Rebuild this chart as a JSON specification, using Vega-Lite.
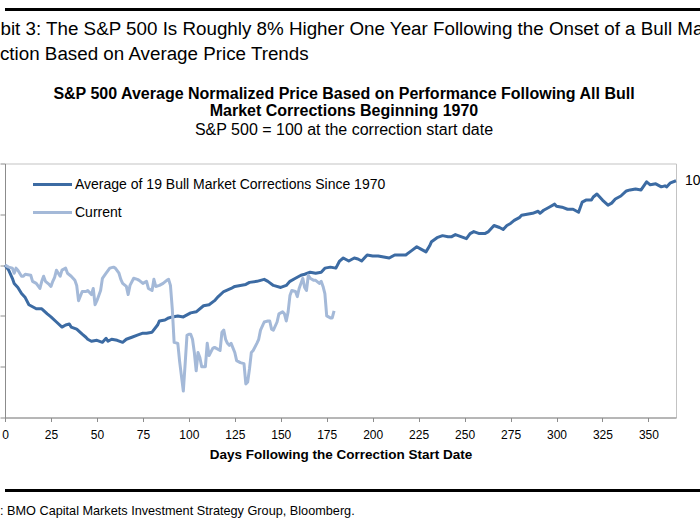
{
  "$schema": "https://vega.github.io/schema/vega-lite/v6.json",
  "background": "white",
  "padding": {"left": -47, "top": 7.5, "right": -507.5, "bottom": 0},
  "spacing": 73,
  "bounds": "flush",
  "resolve": {"legend": {"color": "independent"}},
  "config": {
    "font": "Liberation Sans",
    "view": {"stroke": null}
  },
  "datasets": {
    "frame": [{"k": 1}],
    "series": [
      {"series": "Average of 19 Bull Market Corrections Since 1970", "day": 0, "value": 100},
      {"series": "Average of 19 Bull Market Corrections Since 1970", "day": 2, "value": 99.5},
      {"series": "Average of 19 Bull Market Corrections Since 1970", "day": 4, "value": 98.7},
      {"series": "Average of 19 Bull Market Corrections Since 1970", "day": 5, "value": 98.2},
      {"series": "Average of 19 Bull Market Corrections Since 1970", "day": 7, "value": 97.8},
      {"series": "Average of 19 Bull Market Corrections Since 1970", "day": 9, "value": 97.2},
      {"series": "Average of 19 Bull Market Corrections Since 1970", "day": 11, "value": 96.8},
      {"series": "Average of 19 Bull Market Corrections Since 1970", "day": 13, "value": 96.1},
      {"series": "Average of 19 Bull Market Corrections Since 1970", "day": 15, "value": 95.9},
      {"series": "Average of 19 Bull Market Corrections Since 1970", "day": 17, "value": 95.7},
      {"series": "Average of 19 Bull Market Corrections Since 1970", "day": 20, "value": 95.7},
      {"series": "Average of 19 Bull Market Corrections Since 1970", "day": 23, "value": 95.2},
      {"series": "Average of 19 Bull Market Corrections Since 1970", "day": 25, "value": 94.9},
      {"series": "Average of 19 Bull Market Corrections Since 1970", "day": 28, "value": 94.4},
      {"series": "Average of 19 Bull Market Corrections Since 1970", "day": 31, "value": 93.9},
      {"series": "Average of 19 Bull Market Corrections Since 1970", "day": 33, "value": 94.1},
      {"series": "Average of 19 Bull Market Corrections Since 1970", "day": 35, "value": 94.2},
      {"series": "Average of 19 Bull Market Corrections Since 1970", "day": 36, "value": 93.9},
      {"series": "Average of 19 Bull Market Corrections Since 1970", "day": 39, "value": 93.7},
      {"series": "Average of 19 Bull Market Corrections Since 1970", "day": 42, "value": 93.2},
      {"series": "Average of 19 Bull Market Corrections Since 1970", "day": 44, "value": 92.9},
      {"series": "Average of 19 Bull Market Corrections Since 1970", "day": 45, "value": 92.7},
      {"series": "Average of 19 Bull Market Corrections Since 1970", "day": 47, "value": 92.5},
      {"series": "Average of 19 Bull Market Corrections Since 1970", "day": 50, "value": 92.6},
      {"series": "Average of 19 Bull Market Corrections Since 1970", "day": 53, "value": 92.4},
      {"series": "Average of 19 Bull Market Corrections Since 1970", "day": 55, "value": 92.8},
      {"series": "Average of 19 Bull Market Corrections Since 1970", "day": 56, "value": 92.5},
      {"series": "Average of 19 Bull Market Corrections Since 1970", "day": 58, "value": 92.7},
      {"series": "Average of 19 Bull Market Corrections Since 1970", "day": 61, "value": 92.6},
      {"series": "Average of 19 Bull Market Corrections Since 1970", "day": 64, "value": 92.4},
      {"series": "Average of 19 Bull Market Corrections Since 1970", "day": 66, "value": 92.7},
      {"series": "Average of 19 Bull Market Corrections Since 1970", "day": 69, "value": 92.9},
      {"series": "Average of 19 Bull Market Corrections Since 1970", "day": 72, "value": 93.1},
      {"series": "Average of 19 Bull Market Corrections Since 1970", "day": 75, "value": 93.3},
      {"series": "Average of 19 Bull Market Corrections Since 1970", "day": 77, "value": 93.3},
      {"series": "Average of 19 Bull Market Corrections Since 1970", "day": 80, "value": 93.4},
      {"series": "Average of 19 Bull Market Corrections Since 1970", "day": 83, "value": 94.1},
      {"series": "Average of 19 Bull Market Corrections Since 1970", "day": 84, "value": 94.5},
      {"series": "Average of 19 Bull Market Corrections Since 1970", "day": 87, "value": 94.6},
      {"series": "Average of 19 Bull Market Corrections Since 1970", "day": 89, "value": 94.8},
      {"series": "Average of 19 Bull Market Corrections Since 1970", "day": 91, "value": 94.9},
      {"series": "Average of 19 Bull Market Corrections Since 1970", "day": 94, "value": 95.0},
      {"series": "Average of 19 Bull Market Corrections Since 1970", "day": 97, "value": 94.9},
      {"series": "Average of 19 Bull Market Corrections Since 1970", "day": 101, "value": 95.3},
      {"series": "Average of 19 Bull Market Corrections Since 1970", "day": 104, "value": 95.4},
      {"series": "Average of 19 Bull Market Corrections Since 1970", "day": 108, "value": 96.0},
      {"series": "Average of 19 Bull Market Corrections Since 1970", "day": 111, "value": 96.1},
      {"series": "Average of 19 Bull Market Corrections Since 1970", "day": 114, "value": 96.5},
      {"series": "Average of 19 Bull Market Corrections Since 1970", "day": 116, "value": 96.9},
      {"series": "Average of 19 Bull Market Corrections Since 1970", "day": 119, "value": 97.4},
      {"series": "Average of 19 Bull Market Corrections Since 1970", "day": 123, "value": 97.7},
      {"series": "Average of 19 Bull Market Corrections Since 1970", "day": 125, "value": 97.9},
      {"series": "Average of 19 Bull Market Corrections Since 1970", "day": 128, "value": 98.0},
      {"series": "Average of 19 Bull Market Corrections Since 1970", "day": 131, "value": 98.1},
      {"series": "Average of 19 Bull Market Corrections Since 1970", "day": 133, "value": 98.3},
      {"series": "Average of 19 Bull Market Corrections Since 1970", "day": 137, "value": 98.4},
      {"series": "Average of 19 Bull Market Corrections Since 1970", "day": 141, "value": 98.6},
      {"series": "Average of 19 Bull Market Corrections Since 1970", "day": 143, "value": 98.4},
      {"series": "Average of 19 Bull Market Corrections Since 1970", "day": 146, "value": 98.0},
      {"series": "Average of 19 Bull Market Corrections Since 1970", "day": 150, "value": 97.8},
      {"series": "Average of 19 Bull Market Corrections Since 1970", "day": 153, "value": 98.0},
      {"series": "Average of 19 Bull Market Corrections Since 1970", "day": 155, "value": 98.4},
      {"series": "Average of 19 Bull Market Corrections Since 1970", "day": 158, "value": 98.7},
      {"series": "Average of 19 Bull Market Corrections Since 1970", "day": 161, "value": 99.0},
      {"series": "Average of 19 Bull Market Corrections Since 1970", "day": 163, "value": 99.1},
      {"series": "Average of 19 Bull Market Corrections Since 1970", "day": 166, "value": 99.3},
      {"series": "Average of 19 Bull Market Corrections Since 1970", "day": 169, "value": 99.2},
      {"series": "Average of 19 Bull Market Corrections Since 1970", "day": 172, "value": 99.3},
      {"series": "Average of 19 Bull Market Corrections Since 1970", "day": 174, "value": 99.7},
      {"series": "Average of 19 Bull Market Corrections Since 1970", "day": 177, "value": 99.8},
      {"series": "Average of 19 Bull Market Corrections Since 1970", "day": 180, "value": 99.7},
      {"series": "Average of 19 Bull Market Corrections Since 1970", "day": 182, "value": 100.4},
      {"series": "Average of 19 Bull Market Corrections Since 1970", "day": 184, "value": 100.7},
      {"series": "Average of 19 Bull Market Corrections Since 1970", "day": 187, "value": 100.4},
      {"series": "Average of 19 Bull Market Corrections Since 1970", "day": 190, "value": 100.7},
      {"series": "Average of 19 Bull Market Corrections Since 1970", "day": 192, "value": 100.6},
      {"series": "Average of 19 Bull Market Corrections Since 1970", "day": 194, "value": 100.4},
      {"series": "Average of 19 Bull Market Corrections Since 1970", "day": 197, "value": 101.0},
      {"series": "Average of 19 Bull Market Corrections Since 1970", "day": 200, "value": 100.9},
      {"series": "Average of 19 Bull Market Corrections Since 1970", "day": 203, "value": 100.9},
      {"series": "Average of 19 Bull Market Corrections Since 1970", "day": 206, "value": 100.8},
      {"series": "Average of 19 Bull Market Corrections Since 1970", "day": 209, "value": 100.7},
      {"series": "Average of 19 Bull Market Corrections Since 1970", "day": 212, "value": 101.0},
      {"series": "Average of 19 Bull Market Corrections Since 1970", "day": 214, "value": 101.0},
      {"series": "Average of 19 Bull Market Corrections Since 1970", "day": 218, "value": 101.0},
      {"series": "Average of 19 Bull Market Corrections Since 1970", "day": 221, "value": 101.4},
      {"series": "Average of 19 Bull Market Corrections Since 1970", "day": 224, "value": 101.8},
      {"series": "Average of 19 Bull Market Corrections Since 1970", "day": 226, "value": 101.6},
      {"series": "Average of 19 Bull Market Corrections Since 1970", "day": 229, "value": 101.3},
      {"series": "Average of 19 Bull Market Corrections Since 1970", "day": 231, "value": 101.9},
      {"series": "Average of 19 Bull Market Corrections Since 1970", "day": 232, "value": 102.3},
      {"series": "Average of 19 Bull Market Corrections Since 1970", "day": 235, "value": 102.7},
      {"series": "Average of 19 Bull Market Corrections Since 1970", "day": 238, "value": 102.9},
      {"series": "Average of 19 Bull Market Corrections Since 1970", "day": 241, "value": 102.8},
      {"series": "Average of 19 Bull Market Corrections Since 1970", "day": 243, "value": 102.8},
      {"series": "Average of 19 Bull Market Corrections Since 1970", "day": 245, "value": 103.0},
      {"series": "Average of 19 Bull Market Corrections Since 1970", "day": 248, "value": 102.8},
      {"series": "Average of 19 Bull Market Corrections Since 1970", "day": 251, "value": 102.6},
      {"series": "Average of 19 Bull Market Corrections Since 1970", "day": 253, "value": 103.1},
      {"series": "Average of 19 Bull Market Corrections Since 1970", "day": 255, "value": 103.3},
      {"series": "Average of 19 Bull Market Corrections Since 1970", "day": 258, "value": 103.1},
      {"series": "Average of 19 Bull Market Corrections Since 1970", "day": 261, "value": 103.1},
      {"series": "Average of 19 Bull Market Corrections Since 1970", "day": 263, "value": 103.3},
      {"series": "Average of 19 Bull Market Corrections Since 1970", "day": 266, "value": 103.9},
      {"series": "Average of 19 Bull Market Corrections Since 1970", "day": 269, "value": 103.7},
      {"series": "Average of 19 Bull Market Corrections Since 1970", "day": 271, "value": 103.5},
      {"series": "Average of 19 Bull Market Corrections Since 1970", "day": 273, "value": 103.9},
      {"series": "Average of 19 Bull Market Corrections Since 1970", "day": 275, "value": 104.1},
      {"series": "Average of 19 Bull Market Corrections Since 1970", "day": 277, "value": 104.4},
      {"series": "Average of 19 Bull Market Corrections Since 1970", "day": 280, "value": 104.7},
      {"series": "Average of 19 Bull Market Corrections Since 1970", "day": 281, "value": 104.9},
      {"series": "Average of 19 Bull Market Corrections Since 1970", "day": 284, "value": 105.0},
      {"series": "Average of 19 Bull Market Corrections Since 1970", "day": 287, "value": 105.1},
      {"series": "Average of 19 Bull Market Corrections Since 1970", "day": 290, "value": 105.3},
      {"series": "Average of 19 Bull Market Corrections Since 1970", "day": 291, "value": 105.1},
      {"series": "Average of 19 Bull Market Corrections Since 1970", "day": 293, "value": 105.4},
      {"series": "Average of 19 Bull Market Corrections Since 1970", "day": 296, "value": 105.7},
      {"series": "Average of 19 Bull Market Corrections Since 1970", "day": 299, "value": 106.0},
      {"series": "Average of 19 Bull Market Corrections Since 1970", "day": 300, "value": 105.8},
      {"series": "Average of 19 Bull Market Corrections Since 1970", "day": 303, "value": 105.7},
      {"series": "Average of 19 Bull Market Corrections Since 1970", "day": 306, "value": 105.5},
      {"series": "Average of 19 Bull Market Corrections Since 1970", "day": 309, "value": 105.5},
      {"series": "Average of 19 Bull Market Corrections Since 1970", "day": 310, "value": 105.4},
      {"series": "Average of 19 Bull Market Corrections Since 1970", "day": 312, "value": 105.2},
      {"series": "Average of 19 Bull Market Corrections Since 1970", "day": 314, "value": 106.2},
      {"series": "Average of 19 Bull Market Corrections Since 1970", "day": 316, "value": 106.4},
      {"series": "Average of 19 Bull Market Corrections Since 1970", "day": 319, "value": 106.4},
      {"series": "Average of 19 Bull Market Corrections Since 1970", "day": 320, "value": 106.7},
      {"series": "Average of 19 Bull Market Corrections Since 1970", "day": 322, "value": 107.0},
      {"series": "Average of 19 Bull Market Corrections Since 1970", "day": 325, "value": 106.4},
      {"series": "Average of 19 Bull Market Corrections Since 1970", "day": 328, "value": 105.9},
      {"series": "Average of 19 Bull Market Corrections Since 1970", "day": 330, "value": 106.1},
      {"series": "Average of 19 Bull Market Corrections Since 1970", "day": 332, "value": 106.5},
      {"series": "Average of 19 Bull Market Corrections Since 1970", "day": 335, "value": 106.8},
      {"series": "Average of 19 Bull Market Corrections Since 1970", "day": 338, "value": 107.3},
      {"series": "Average of 19 Bull Market Corrections Since 1970", "day": 340, "value": 107.4},
      {"series": "Average of 19 Bull Market Corrections Since 1970", "day": 343, "value": 107.5},
      {"series": "Average of 19 Bull Market Corrections Since 1970", "day": 346, "value": 107.4},
      {"series": "Average of 19 Bull Market Corrections Since 1970", "day": 349, "value": 108.2},
      {"series": "Average of 19 Bull Market Corrections Since 1970", "day": 351, "value": 107.9},
      {"series": "Average of 19 Bull Market Corrections Since 1970", "day": 354, "value": 108.0},
      {"series": "Average of 19 Bull Market Corrections Since 1970", "day": 357, "value": 107.7},
      {"series": "Average of 19 Bull Market Corrections Since 1970", "day": 359, "value": 107.8},
      {"series": "Average of 19 Bull Market Corrections Since 1970", "day": 360, "value": 107.7},
      {"series": "Average of 19 Bull Market Corrections Since 1970", "day": 362, "value": 108.1},
      {"series": "Average of 19 Bull Market Corrections Since 1970", "day": 365, "value": 108.3},
      {"series": "Current", "day": 0, "value": 100},
      {"series": "Current", "day": 2, "value": 99.8},
      {"series": "Current", "day": 4, "value": 99.7},
      {"series": "Current", "day": 5, "value": 99.2},
      {"series": "Current", "day": 6, "value": 99.7},
      {"series": "Current", "day": 7, "value": 99.5},
      {"series": "Current", "day": 9, "value": 98.9},
      {"series": "Current", "day": 10, "value": 98.9},
      {"series": "Current", "day": 11, "value": 99.1},
      {"series": "Current", "day": 14, "value": 99.0},
      {"series": "Current", "day": 15, "value": 98.4},
      {"series": "Current", "day": 17, "value": 98.2},
      {"series": "Current", "day": 19, "value": 97.7},
      {"series": "Current", "day": 20, "value": 98.4},
      {"series": "Current", "day": 21, "value": 98.9},
      {"series": "Current", "day": 22, "value": 98.4},
      {"series": "Current", "day": 24, "value": 98.1},
      {"series": "Current", "day": 25, "value": 97.9},
      {"series": "Current", "day": 26, "value": 98.4},
      {"series": "Current", "day": 27, "value": 98.8},
      {"series": "Current", "day": 28, "value": 99.5},
      {"series": "Current", "day": 30, "value": 98.9},
      {"series": "Current", "day": 31, "value": 99.5},
      {"series": "Current", "day": 33, "value": 99.7},
      {"series": "Current", "day": 34, "value": 99.2},
      {"series": "Current", "day": 36, "value": 98.9},
      {"series": "Current", "day": 38, "value": 98.5},
      {"series": "Current", "day": 39, "value": 98.0},
      {"series": "Current", "day": 40, "value": 96.5},
      {"series": "Current", "day": 42, "value": 97.4},
      {"series": "Current", "day": 44, "value": 97.4},
      {"series": "Current", "day": 45, "value": 97.5},
      {"series": "Current", "day": 47, "value": 97.1},
      {"series": "Current", "day": 48, "value": 97.7},
      {"series": "Current", "day": 49, "value": 96.1},
      {"series": "Current", "day": 50, "value": 96.5},
      {"series": "Current", "day": 52, "value": 97.5},
      {"series": "Current", "day": 53, "value": 98.7},
      {"series": "Current", "day": 55, "value": 99.2},
      {"series": "Current", "day": 57, "value": 99.7},
      {"series": "Current", "day": 59, "value": 99.8},
      {"series": "Current", "day": 60, "value": 99.7},
      {"series": "Current", "day": 62, "value": 99.2},
      {"series": "Current", "day": 63, "value": 98.6},
      {"series": "Current", "day": 64, "value": 98.2},
      {"series": "Current", "day": 66, "value": 97.9},
      {"series": "Current", "day": 67, "value": 97.1},
      {"series": "Current", "day": 68, "value": 98.0},
      {"series": "Current", "day": 70, "value": 98.7},
      {"series": "Current", "day": 72, "value": 98.6},
      {"series": "Current", "day": 73, "value": 98.5},
      {"series": "Current", "day": 75, "value": 98.2},
      {"series": "Current", "day": 77, "value": 98.4},
      {"series": "Current", "day": 78, "value": 97.7},
      {"series": "Current", "day": 80, "value": 97.5},
      {"series": "Current", "day": 81, "value": 98.6},
      {"series": "Current", "day": 82, "value": 97.9},
      {"series": "Current", "day": 84, "value": 98.0},
      {"series": "Current", "day": 86, "value": 98.2},
      {"series": "Current", "day": 88, "value": 98.5},
      {"series": "Current", "day": 89, "value": 98.6},
      {"series": "Current", "day": 90, "value": 98.0},
      {"series": "Current", "day": 91, "value": 95.7},
      {"series": "Current", "day": 92, "value": 92.4},
      {"series": "Current", "day": 94, "value": 92.3},
      {"series": "Current", "day": 95, "value": 90.5},
      {"series": "Current", "day": 97, "value": 87.6},
      {"series": "Current", "day": 98, "value": 90.3},
      {"series": "Current", "day": 99, "value": 93.1},
      {"series": "Current", "day": 100, "value": 93.2},
      {"series": "Current", "day": 101, "value": 93.2},
      {"series": "Current", "day": 102, "value": 92.7},
      {"series": "Current", "day": 103, "value": 91.4},
      {"series": "Current", "day": 104, "value": 89.6},
      {"series": "Current", "day": 105, "value": 91.4},
      {"series": "Current", "day": 106, "value": 90.9},
      {"series": "Current", "day": 107, "value": 90.0},
      {"series": "Current", "day": 109, "value": 90.0},
      {"series": "Current", "day": 110, "value": 92.3},
      {"series": "Current", "day": 111, "value": 91.1},
      {"series": "Current", "day": 113, "value": 91.8},
      {"series": "Current", "day": 114, "value": 91.9},
      {"series": "Current", "day": 115, "value": 91.8},
      {"series": "Current", "day": 117, "value": 91.6},
      {"series": "Current", "day": 118, "value": 93.4},
      {"series": "Current", "day": 119, "value": 93.6},
      {"series": "Current", "day": 120, "value": 92.7},
      {"series": "Current", "day": 121, "value": 92.3},
      {"series": "Current", "day": 122, "value": 92.1},
      {"series": "Current", "day": 123, "value": 92.3},
      {"series": "Current", "day": 125, "value": 91.4},
      {"series": "Current", "day": 126, "value": 90.6},
      {"series": "Current", "day": 128, "value": 90.4},
      {"series": "Current", "day": 130, "value": 90.3},
      {"series": "Current", "day": 131, "value": 88.3},
      {"series": "Current", "day": 132, "value": 88.5},
      {"series": "Current", "day": 133, "value": 89.8},
      {"series": "Current", "day": 134, "value": 91.4},
      {"series": "Current", "day": 135, "value": 91.6},
      {"series": "Current", "day": 137, "value": 92.3},
      {"series": "Current", "day": 138, "value": 92.7},
      {"series": "Current", "day": 139, "value": 93.6},
      {"series": "Current", "day": 141, "value": 94.4},
      {"series": "Current", "day": 143, "value": 94.5},
      {"series": "Current", "day": 144, "value": 94.5},
      {"series": "Current", "day": 145, "value": 93.7},
      {"series": "Current", "day": 146, "value": 93.6},
      {"series": "Current", "day": 148, "value": 94.4},
      {"series": "Current", "day": 149, "value": 95.2},
      {"series": "Current", "day": 151, "value": 95.4},
      {"series": "Current", "day": 152, "value": 95.2},
      {"series": "Current", "day": 153, "value": 94.5},
      {"series": "Current", "day": 154, "value": 95.4},
      {"series": "Current", "day": 155, "value": 97.0},
      {"series": "Current", "day": 156, "value": 97.5},
      {"series": "Current", "day": 158, "value": 97.4},
      {"series": "Current", "day": 159, "value": 96.9},
      {"series": "Current", "day": 160, "value": 97.7},
      {"series": "Current", "day": 162, "value": 98.7},
      {"series": "Current", "day": 163, "value": 97.8},
      {"series": "Current", "day": 164, "value": 97.5},
      {"series": "Current", "day": 165, "value": 99.0},
      {"series": "Current", "day": 166, "value": 98.7},
      {"series": "Current", "day": 168, "value": 98.5},
      {"series": "Current", "day": 169, "value": 98.5},
      {"series": "Current", "day": 171, "value": 98.2},
      {"series": "Current", "day": 172, "value": 98.4},
      {"series": "Current", "day": 173, "value": 97.9},
      {"series": "Current", "day": 174, "value": 97.2},
      {"series": "Current", "day": 175, "value": 95.0},
      {"series": "Current", "day": 177, "value": 94.8},
      {"series": "Current", "day": 178, "value": 94.8},
      {"series": "Current", "day": 179, "value": 95.5}
    ]
  },
  "vconcat": [
    {
      "width": 1200,
      "height": 81,
      "data": {"name": "frame"},
      "mark": {"type": "rule", "color": "black", "strokeWidth": 3},
      "encoding": {
        "x": {
          "datum": 0, "type": "quantitative",
          "scale": {"domain": [0, 1]},
          "axis": {
            "orient": "top",
            "domain": false,
            "ticks": false,
            "labels": false,
            "grid": false,
            "title": "Exhibit 3: The S&P 500 Is Roughly 8% Higher One Year Following the Onset of a Bull Market",
            "titleAnchor": "start",
            "titleAlign": "left",
            "titleBaseline": "alphabetic",
            "titleX": -41.6,
            "titleY": 24.7,
            "titleFont": "Liberation Sans",
            "titleFontSize": 18.8,
            "titleFontWeight": "normal",
            "titleColor": "black"
          }
        },
        "x2": {"datum": 1},
        "y": {"datum": 1, "type": "quantitative", "scale": {"domain": [0, 1]}, "axis": null}
      },
      "title": {
        "text": "Correction Based on Average Price Trends",
        "orient": "bottom",
        "anchor": "start",
        "frame": "group",
        "dx": -52,
        "offset": -46,
        "font": "Liberation Sans",
        "fontSize": 18.8,
        "fontWeight": "normal",
        "color": "black"
      }
    },
    {
      "width": 671,
      "height": 254,
      "view": {"stroke": "#c3c3c3", "strokeWidth": 1},
      "title": {
        "text": ["S&P 500 Average Normalized Price Based on Performance Following All Bull", "Market Corrections Beginning 1970"],
        "subtitle": "S&P 500 = 100 at the correction start date",
        "anchor": "middle",
        "frame": "group",
        "dx": 3.5,
        "offset": 25,
        "font": "Liberation Sans",
        "fontSize": 16,
        "fontWeight": "bold",
        "lineHeight": 17,
        "color": "black",
        "subtitleFont": "Liberation Sans",
        "subtitleFontSize": 16,
        "subtitleColor": "black",
        "subtitlePadding": 3
      },
      "data": {"name": "series"},
      "layer": [
        {
          "mark": {"type": "line", "strokeWidth": 3, "strokeJoin": "round"},
          "encoding": {
            "x": {
              "field": "day", "type": "quantitative",
              "scale": {"domain": [0, 365], "nice": false},
              "axis": {
                "values": [0, 25, 50, 75, 100, 125, 150, 175, 200, 225, 250, 275, 300, 325, 350],
                "title": "Days Following the Correction Start Date",
                "grid": false,
                "domainColor": "#8c8c8c",
                "tickColor": "#8c8c8c",
                "tickSize": 4,
                "labelFont": "Liberation Sans",
                "labelFontSize": 12,
                "labelColor": "black",
                "labelPadding": 8,
                "labelFlush": false,
                "titleFont": "Liberation Sans",
                "titleFontSize": 13.5,
                "titleFontWeight": "bold",
                "titleColor": "black",
                "titlePadding": 7
              }
            },
            "y": {
              "field": "value", "type": "quantitative",
              "scale": {"domain": [85, 110], "nice": false, "zero": false},
              "axis": {
                "values": [85, 90, 95, 100, 105, 110],
                "title": null,
                "grid": false,
                "labels": false,
                "domainColor": "#8c8c8c",
                "tickColor": "#8c8c8c",
                "tickSize": 5
              }
            },
            "color": {
              "field": "series", "type": "nominal",
              "scale": {
                "domain": ["Average of 19 Bull Market Corrections Since 1970", "Current"],
                "range": ["#3c6ba3", "#a4b9d8"]
              },
              "legend": {
                "title": null,
                "orient": "none",
                "legendX": 26.5,
                "legendY": 14,
                "padding": 0,
                "direction": "vertical",
                "symbolType": "stroke",
                "symbolSize": 1521,
                "symbolStrokeWidth": 3,
                "clipHeight": 14,
                "rowPadding": 14,
                "labelFont": "Liberation Sans",
                "labelFontSize": 14,
                "labelColor": "black",
                "labelLimit": 500,
                "labelOffset": 1.5
              }
            }
          }
        },
        {
          "transform": [{"filter": "datum.day === 365"}],
          "mark": {"type": "text", "align": "left", "baseline": "middle", "dx": 9, "fontSize": 14, "color": "black", "font": "Liberation Sans"},
          "encoding": {
            "x": {"field": "day", "type": "quantitative"},
            "y": {"field": "value", "type": "quantitative"},
            "text": {"field": "value", "type": "quantitative", "format": ".0f"}
          }
        }
      ]
    },
    {
      "width": 1200,
      "height": 8,
      "data": {"name": "frame"},
      "mark": {"type": "rule", "color": "black", "strokeWidth": 3},
      "encoding": {
        "y": {"datum": 1, "type": "quantitative", "scale": {"domain": [0, 1]}, "axis": null}
      },
      "title": {
        "text": "Source: BMO Capital Markets Investment Strategy Group, Bloomberg.",
        "orient": "bottom",
        "anchor": "start",
        "frame": "group",
        "dx": -45.2,
        "offset": 6.3,
        "font": "Liberation Sans",
        "fontSize": 12.7,
        "fontWeight": "normal",
        "color": "black"
      }
    }
  ]
}
